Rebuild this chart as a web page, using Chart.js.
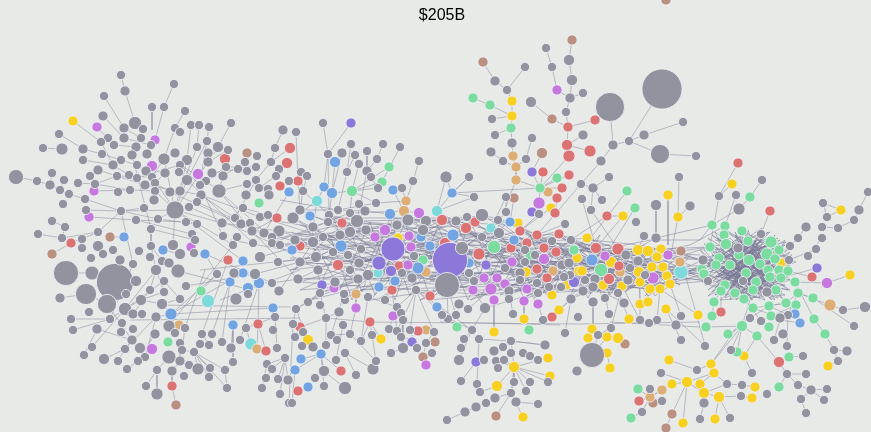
<!DOCTYPE html>
<html><head><meta charset="utf-8">
<script src="https://cdn.jsdelivr.net/npm/chart.js@4"></script>
<style>html,body{margin:0;padding:0;background:#e8eae8}canvas{display:block}</style>
</head><body><canvas id="c" width="871" height="432"></canvas>
<script>
const titleText = "$205B";
// node triples: x, y, radius
const grayNodes = [
121,75,4,125,91,4.5,174,84,4,104,96,4,152,107,4,164,107,4,185,111,4,103,116,4.5,231,123,4,135,123,6,124,128,4.5,143,129,4,59,134,4,191,125,4,199,125,4,209,127,4,175,128,4,180,132,4,283,130,4.5,124,138,4.5,141,138,4,108,138,4,101,142,4,43,148,4,62,149,5.5,83,149,4.5,114,145,4,136,147,4.5,151,145,4,207,141,4,197,147,4,218,147,5,228,150,4,275,148,4,175,153,4.5,208,153,4.5,102,154,4,132,155,4.5,147,154,4.5,257,156,4,83,160,4,121,160,4,164,159,5.5,187,160,5,208,162,4.5,245,162,4,271,162,4,113,165,4.5,137,165,4,180,165,4,226,167,4,256,167,4,238,169,4,279,169,4,98,170,4.5,146,171,4.5,179,172,4,165,173,4.5,212,173,4.5,247,171,4,90,176,4,52,173,4,117,176,4,129,175,4,137,178,4,152,177,4,223,176,4.5,276,176,4,289,181,4,16,177,7,37,181,4,64,180,4,50,185,4.5,78,183,4,95,184,4,187,180,5,206,181,4,256,180,4,247,184,4,145,185,4.5,155,183,4,200,185,4,60,190,4,219,191,6.5,259,188,4,268,189,4,130,190,4,118,192,4,155,191,4,170,192,4.5,180,191,4.5,69,194,4,201,195,4.5,246,195,4.5,269,195,4.5,85,199,4,154,200,4.5,63,204,4,197,202,4,175,210,8.5,144,208,4,189,207,4,243,208,4,86,210,4,121,211,4,158,219,4,235,218,4,260,217,4,268,215,4,136,220,4,52,221,4,186,222,4,197,224,4,222,223,4.5,241,224,4.5,250,223,4,65,227,4,151,229,4,98,232,4,252,231,4.5,264,233,4.5,279,231,5.5,38,234,4,192,234,4,223,236,4,237,237,4,62,238,4,82,239,4,195,240,4,272,237,4,98,246,5,151,246,4,173,245,5,233,245,4,253,243,4,272,243,4,280,245,4,82,248,4,113,250,4,
66,273,12,92,273,6.5,115,282,18,86,294,10,107,304,9,136,281,5,126,294,4,60,298,4.5,91,258,4,103,254,4,120,260,4.5,133,264,4,139,251,4,150,257,4,156,270,5,162,261,4,169,263,4.5,178,271,6.5,180,254,5,194,253,4,234,273,4.5,255,274,5,260,257,5,217,274,4,164,281,4,186,286,4,150,290,4,164,292,4,248,294,4,272,283,4,279,291,4.5,278,262,4,180,299,4,141,300,5,162,304,5,236,299,5.5,125,309,6,89,312,4,133,314,4.5,142,314,4,71,319,4,110,319,4,156,317,4.5,275,317,4,122,323,4,169,326,5.5,185,328,4,246,328,4,73,330,4,97,329,4.5,133,329,4,121,332,4,175,333,4,155,334,4.5,202,334,4,212,334,4,273,330,4,132,340,4.5,180,343,4,200,344,4,209,345,4,222,342,4,240,340,4,277,348,4,92,347,4,125,349,4,140,348,5,182,350,4,231,348,4.5,194,352,4,84,355,4,104,359,5,145,357,4,169,357,6.5,118,361,4,138,361,4,180,361,4.5,189,365,4,285,358,4,233,362,4,267,364,4,127,369,4,157,370,4,172,371,4.5,198,369,5.5,210,368,4,225,370,4,272,369,4,184,376,4,209,377,4,266,378,4,278,379,4,288,380,4.5,146,386,4,227,388,4,262,388,4,157,394,5.5,280,394,4,289,403,4,
323,123,4,296,132,4,351,144,4,383,144,4,400,147,4,328,154,4,342,153,4.5,355,155,4,367,151,4,377,159,4,419,161,4,359,164,4,301,172,4,307,176,4,347,172,4,367,171,4.5,371,177,4,413,181,4,446,177,5.5,469,177,4,378,188,4,402,188,4,303,191,4,474,197,4,359,204,4,376,203,4,300,210,4.5,338,210,4,350,213,4,365,211,4.5,293,218,5.5,329,215,4,482,215,6,467,217,4,357,221,6,408,220,5.5,426,221,5,456,221,4.5,328,222,4,313,227,4.5,397,225,4.5,350,232,5,366,230,4.5,423,230,5,498,220,4,506,212,4,506,197,4,295,240,4.5,323,237,4,340,235,4.5,313,242,5,482,237,4,499,233,5,462,248,6,361,249,4,348,255,4,316,257,5,414,256,4,300,262,4.5,359,263,4.5,402,273,4,368,275,5,469,273,4,358,279,4.5,298,279,4.5,412,278,4.5,447,285,12,474,281,4,318,270,4.5,333,252,4,335,282,4.5,385,300,4,350,270,4,320,305,4,345,300,4,525,250,4,535,255,4,570,275,4,605,298,4,630,268,4,645,275,4,
539,214,4,505,268,4,525,262,4,520,273,4.5,562,265,4.5,569,263,4.5,564,277,4,571,240,4,552,241,4,565,224,4,509,291,4.5,520,280,4,537,283,4,538,293,4,549,287,4,561,287,4,571,299,4.5,509,299,4,485,308,5,459,304,4.5,468,309,4,543,320,4,513,314,4,578,317,4,456,315,4,448,319,4,442,315,4,416,290,4,368,297,4,344,294,4,308,302,4,320,293,4,296,309,4,339,312,4.5,397,307,4,401,313,4,403,320,4,326,318,4,343,325,4,293,324,4,389,329,4,397,331,4,410,330,4,434,332,4,472,330,4,565,333,4,303,332,4,295,337,4,350,334,4,331,335,4,337,340,4,372,335,4,361,341,4,401,337,4,426,343,4,417,348,4,403,348,5,391,353,4,302,346,4,313,347,4.5,326,345,4,345,353,4,432,353,4,464,339,4,479,339,4,461,348,4,459,360,5,511,341,4,545,345,4.5,503,347,4,494,351,4.5,523,353,4,511,353,4,530,356,4,538,360,4,484,360,4,496,361,4,504,360,4,498,368,4,548,382,4,530,382,4,514,382,4,461,381,4,477,384,4,480,392,4,526,391,4,511,393,4,495,398,4.5,516,402,4.5,538,404,4,486,403,4,476,407,4.5,465,412,4.5,447,420,4,577,371,4.5,315,378,4,324,371,5,336,360,4,373,369,5.5,376,361,4,356,375,4,324,386,4,345,388,6,292,403,4,
546,48,4,569,60,5,552,67,4,525,67,4,662,89,19.5,572,80,5,495,81,4.5,507,90,4,583,93,4,570,98,4.5,531,102,5,610,107,14,566,112,4,492,119,4,683,122,4,495,135,4,644,135,4.5,583,135,4.5,532,138,4,629,141,4,512,143,4.5,613,145,4.5,491,152,4.5,660,154,9,696,156,4,503,161,4,526,159,4,601,161,4.5,609,177,4,679,177,4,581,184,4,593,188,4.5,
582,199,4,602,200,4,591,210,4,762,180,4,719,196,4,736,195,4,868,192,4,823,203,4,859,210,4.5,656,205,5,690,206,4.5,739,209,5.5,827,217,4,854,220,4,636,222,4,838,228,4,822,227,4,806,227,4.5,761,234,4,644,236,4,656,238,4.5,798,238,4,822,238,4,738,248,4.5,790,246,4,816,249,4,626,255,4.5,808,256,4,638,261,4.5,703,260,4.5,789,260,4,595,279,4.5,585,280,4,628,280,4.5,708,281,4,743,281,4,593,287,4.5,583,291,4.5,767,292,4.5,618,293,4,843,310,4,865,307,5,624,303,4.5,593,302,4.5,681,316,4,657,320,4,640,320,4,609,314,4,788,315,4,780,318,4.5,750,318,4,
611,328,4,598,335,4,592,355,12,649,323,4,676,325,4.5,681,340,4,705,346,4,761,321,4,783,334,4.5,774,340,4,787,346,4,854,326,4,834,350,4,847,351,4.5,838,361,4,731,350,4,803,356,4,752,373,4,787,374,4,806,374,4,798,385,4,811,390,4.5,827,389,4,801,399,4,824,400,4,806,413,4,697,370,4,661,373,4,727,384,4,742,385,4,741,396,4,767,394,4,650,389,4,662,401,4,704,403,4.5,642,412,4,700,419,4,730,418,4
];
const purpleNodes = [351,123,4.5,322,285,4.5,393,249,11.5,450,260,17,379,263,6.5,391,271,5,486,265,4.5,532,172,4.5,532,212,4.5,574,282,5,412,342,4.5,476,362,4.5,817,268,4.5];
const pinkNodes = [97,127,4.5,155,140,4.5,152,166,5,198,174,5,94,191,4.5,89,217,4.5,191,247,4.5,152,349,5,375,237,4.5,385,230,5,419,213,5,409,236,4.5,411,247,4.5,408,265,4.5,334,288,4.5,356,308,4.5,393,316,4.5,426,365,4.5,539,203,5.5,512,262,4.5,544,259,5,484,278,4.5,497,278,4.5,505,284,4.5,491,289,5.5,473,290,4.5,527,289,4.5,494,300,4.5,524,301,4.5,538,304,4.5,557,90,4.5,605,256,4.5,668,255,4.5,653,278,5.5,827,283,5];
const blueNodes = [289,192,4.5,124,237,4.5,163,250,4.5,205,254,4.5,243,261,4.5,243,273,4.5,230,282,4.5,259,283,5,248,288,5,171,314,5.5,273,308,4.5,233,325,4.5,335,162,5,324,187,4.5,393,190,4.5,332,193,5,452,193,4.5,390,214,5,310,216,4.5,341,246,5.5,421,237,4.5,453,235,5.5,430,246,4.5,292,250,4.5,469,263,4.5,418,268,5.5,442,275,4.5,395,281,4.5,379,287,4.5,437,307,4.5,510,222,4.5,514,240,4.5,321,354,4.5,301,359,4.5,295,370,4.5,308,387,4.5,592,260,5.5,795,314,4.5,800,323,4.5];
const redNodes = [225,159,5,290,148,5,287,163,5,280,186,4.5,277,218,4.5,71,243,4.5,228,260,4.5,258,324,4.5,266,351,4.5,172,386,4.5,298,181,4.5,442,220,5,475,222,4.5,466,228,5,342,223,4.5,445,243,5,300,246,4.5,479,254,5.5,338,265,5,399,266,4.5,557,198,4.5,562,188,4.5,569,175,4.5,543,172,4.5,568,127,4.5,567,145,5,569,156,5.5,595,120,4.5,590,151,5.5,555,213,4.5,520,231,4.5,537,235,4.5,559,234,4.5,527,243,4.5,511,248,4.5,544,248,4.5,556,252,4.5,537,269,4.5,547,278,4.5,552,317,4.5,430,296,4.5,392,290,4.5,370,322,4.5,300,327,4.5,418,331,4.5,341,371,4.5,298,391,4.5,738,163,4.5,770,211,4.5,607,216,4.5,596,248,5,618,249,5.5,619,266,4.5,609,279,5,812,277,4.5,721,312,4.5,779,362,5,639,401,4.5];
const greenNodes = [259,203,4.5,201,291,4.5,168,342,4.5,389,167,4.5,382,182,4.5,352,191,5,423,260,4.5,494,247,6,473,98,4.5,490,105,4.5,511,128,4.5,557,178,4.5,540,188,4.5,574,250,4.5,530,255,4.5,457,327,4.5,529,330,4.5,627,191,4.5,750,197,4.5,635,208,4.5,712,225,4.5,725,226,4.5,742,231,4.5,724,235,4.5,748,241,4.5,771,242,5.5,726,244,5,710,247,4.5,779,250,4.5,767,254,5.5,739,255,4.5,719,258,4.5,775,259,4.5,749,260,5,716,265,4.5,730,265,4.5,760,264,4.5,601,270,6,702,269,4.5,768,270,4.5,779,270,4.5,788,271,4.5,704,274,4.5,746,273,4.5,770,277,4.5,781,278,4.5,795,282,4.5,756,282,4.5,725,285,4.5,753,290,4.5,721,291,4.5,735,293,4.5,776,290,4.5,798,293,4.5,744,299,4.5,813,298,4.5,786,303,4.5,796,305,4.5,769,306,4.5,753,308,4.5,714,302,4.5,712,316,4.5,771,316,4.5,814,319,4.5,706,327,4.5,728,334,4.5,742,326,5,757,336,4.5,769,327,4.5,825,334,4.5,737,352,4.5,789,357,4.5,779,387,4.5,638,389,4.5,631,418,4.5];
const yellowNodes = [73,121,4.5,398,238,4.5,512,101,4.5,512,116,4.5,551,208,4.5,518,223,4.5,577,258,4.5,526,272,4.5,579,271,4.5,566,285,4.5,552,295,4.5,559,310,4.5,524,319,4.5,494,332,4.5,308,340,5,381,339,4.5,548,358,4.5,514,367,5,550,376,4.5,497,386,5,523,417,4.5,732,184,4.5,668,195,4.5,841,210,4.5,678,217,4.5,623,216,4.5,587,238,4.5,638,250,5,648,251,5,661,249,4.5,657,257,4.5,611,262,5,781,263,4.5,652,267,4.5,663,267,4.5,582,271,4.5,639,272,5,850,275,4.5,667,276,4.5,640,282,4.5,670,284,4.5,603,285,4.5,622,286,4.5,650,289,4.5,660,289,4.5,640,304,4.5,648,302,4.5,666,309,4.5,698,315,4.5,629,319,4.5,592,329,4.5,588,338,4.5,607,337,4.5,618,338,5,607,353,4.5,610,368,4.5,828,366,4.5,744,356,4.5,669,360,4.5,711,364,4.5,714,373,4.5,672,384,4.5,687,382,5,700,384,4.5,755,387,4.5,704,393,5,719,397,5,752,398,4.5,683,423,4.5,715,419,4.5];
const tanNodes = [179,325,4.5,257,349,4.5,406,201,4.5,404,211,5,426,272,4.5,356,294,4.5,426,330,4.5,513,156,4.5,516,167,4.5,516,180,4.5,548,192,4.5,553,271,4.5,680,262,4.5,620,272,4.5,830,305,5.5,662,390,4.5,650,397,4.5];
const brownNodes = [247,153,4.5,110,237,4.5,52,254,4.5,176,405,4.5,514,198,4.5,542,153,5,666,0,4.5,572,40,4.5,483,62,4.5,552,119,4.5,435,342,4.5,423,357,4.5,496,416,4.5,681,251,4.5,625,344,4.5,653,403,4.5,672,414,4.5,666,428,4.5];
const cyanNodes = [208,301,6,251,344,5.5,317,201,5,437,211,5,491,228,4.5,378,273,4.5,681,272,6.5];
// edge polylines: data coordinates x,y,x,y,...
const links = [
[121,75,125,91,135,123,143,129],[174,84,164,107,155,140],[152,107,152,130],[185,111,175,128,164,159],[104,96,124,128,141,138],[103,116,124,138,151,145],[73,121,101,142,113,165],[97,127,114,145,136,147],[59,134,83,149,102,154,121,160,137,165],[43,148,62,149],[83,160,113,165,129,175],[231,123,218,147,208,162],[16,177,37,181,50,185,60,190],[52,173,50,185],[64,180,60,190],[78,183,95,184,117,176,152,177],[95,184,130,190],[69,194,85,199,121,211,158,219,197,224],[94,191,130,190,155,191],[86,210,121,211],[89,217,136,220,186,222],[52,221,65,227,62,238],[38,234,62,238],[110,237,124,237],[71,243,52,254],[71,243,82,239,98,232,121,211,144,208],[121,211,133,264],[151,229,151,246,156,270],[98,170,117,176,145,185],[191,125,187,160,175,210],[199,125,197,147,180,191],[209,127,197,202],[207,141,187,180,175,210],[228,150,208,162,175,210],[175,153,164,159,152,177,175,210],[275,148,271,162,256,180,235,218],[283,130,275,148],[290,148,271,162],[287,163,276,176,259,188],[247,153,245,162,223,176,219,191],
[219,191,252,231,264,233,300,262],[219,191,280,245,320,250],[175,210,222,223,279,231,313,242],[197,202,264,233],[189,207,272,243],[201,195,260,217,323,237],[187,180,253,243],[170,192,241,224],[155,191,175,210,233,245],[164,159,175,210,243,261],[136,178,180,165,200,185,223,236],[145,185,180,191,201,195,235,218],[165,173,155,183,170,192],[180,165,206,181,219,191],[247,184,219,191],[226,167,200,185],[238,169,212,173],[256,167,226,167],[289,192,264,233],[277,218,252,231],[268,215,243,208,222,223],
[121,211,175,210],[158,219,175,210],[136,220,192,234],[151,229,195,240],[173,245,175,210],[163,250,180,254],[98,232,62,238],[92,273,66,273],[92,273,115,282],[86,294,60,298],[86,294,107,304],[92,273,136,281],[125,309,156,270],[125,309,141,300],[125,309,164,281],[107,304,132,340,97,329],[71,319,110,319,125,309],[73,330,110,319,133,264],[92,347,125,309],[84,355,97,329],[104,359,125,349,132,340],[118,361,125,349],[127,369,138,361],[145,357,156,317],[138,361,155,334],[125,349,156,317,171,314],[156,270,164,292,141,300],[156,270,150,290,133,314],[141,300,162,304,171,314],[171,314,217,274,205,254],[171,314,243,273],[171,314,273,308],[169,326,233,245],[185,328,205,270],[201,291,217,274],[178,271,243,288],[151,246,162,261],[132,155,151,229],[205,254,272,283],[228,260,202,334],[230,282,212,334],[230,282,222,342],[259,283,240,340],[258,324,259,283],[258,324,257,349],[266,351,258,324],[251,344,246,328,275,317],[273,308,275,317,277,348],[233,325,233,362],[231,348,233,325],[194,352,225,370],[194,352,210,368],[194,352,209,377],[194,352,198,369],[194,352,227,388,225,370],[194,352,182,350,185,328],[169,357,180,361,172,371,172,386,176,405],[157,370,146,386],[157,370,157,394],[169,357,157,370],[180,343,180,361],[209,345,202,334],[180,299,162,304],[164,281,180,299],[186,286,255,274],
[285,358,267,364,262,388],[285,358,272,369,266,378],[285,358,278,379],[288,380,285,358],[280,394,285,358],[293,324,289,403],[300,327,295,337],[303,332,308,340,302,346],[308,340,296,309,320,293],[321,354,301,359],[321,354,295,370,292,403],[321,354,324,371,345,388],[321,354,341,371],[321,354,324,386],[326,345,326,318],[336,360,343,325],[345,353,373,369],[376,361,350,334],[356,375,345,353],[373,369,376,361,372,335,370,322],[370,322,381,339],[370,322,361,341],[370,322,326,318,300,327],[403,320,403,348,391,353],[417,348,410,330,416,290],[423,357,426,343,434,332,416,290],[426,365,423,357],[412,342,397,331,416,290],[397,307,416,290],[397,331,392,290],[401,337,403,320],[389,329,397,307,368,297],[368,297,361,341],[356,294,356,308,350,334,331,335],[331,335,344,294],[339,312,326,318,320,293],[296,309,308,302,320,293],[293,324,296,309],[416,290,457,327],[416,290,472,330,459,360],[430,296,416,290],[437,307,442,315,472,330],
[472,330,485,308,574,282],[472,330,464,339,461,348],[479,339,511,341,545,345],[511,341,503,347,494,351],[545,345,511,341],[494,351,498,368],[511,341,514,367],[484,360,476,362,461,381],[504,360,514,367],[496,361,514,367],[523,353,530,356,538,360],[514,367,548,358],[514,367,548,382],[514,367,550,376],[514,367,530,382],[514,367,514,382],[514,367,497,386],[514,367,526,391],[514,367,511,393],[497,386,480,392,477,384],[511,393,495,398,486,403,476,407,465,412,447,420],[511,393,516,402,538,404],[511,393,496,416],[511,393,523,417],[514,382,511,393],[479,339,477,384],
[538,304,543,320],[524,301,524,319],[494,300,494,332],[513,314,509,291],[459,304,468,309,491,289],[485,308,473,290],[571,299,565,333],[571,299,552,317],[571,299,559,310],[538,304,527,289],[448,319,447,285],[456,315,447,285],
[483,62,495,81,507,90,525,67],[473,98,490,105,512,116,512,101,507,90],[492,119,512,116,511,128,512,143,513,156,516,167,516,180,474,290],[495,135,511,128],[491,152,503,161,516,167],[532,138,526,159,516,167],[531,102,552,119,568,127,566,112,570,98,583,93],[546,48,552,67,557,90,570,98,572,80,569,60,572,40],[595,120,568,127,567,145,583,135],[567,145,590,151],[567,145,569,156,540,188],[542,153,532,172,540,188],[543,172,540,188],[516,180,540,188,548,192],[540,188,557,178],[540,188,569,175],[540,188,562,188],[540,188,452,193,437,211],[540,188,539,203,532,212],[557,198,555,213],[551,208,520,231],[539,214,520,231],[565,224,537,235],[446,177,452,193,469,177],[452,193,474,197,437,211],
[662,89,629,141,613,145,610,107],[629,141,644,135,683,122],[629,141,660,154,696,156],[613,145,601,161,581,184,537,235],[609,177,593,188,581,184],[593,188,591,210],[627,191,593,235],[635,208,596,270],[607,216,623,216,596,248],[607,216,540,260],[591,210,618,249],[602,200,593,188],[582,199,596,248],
[656,205,656,238],[668,195,668,245],[690,206,678,217,670,260],[644,236,638,250],[679,177,678,217],[738,163,719,196,710,247],[732,184,719,196],[762,180,750,197,739,209,712,225],[736,195,725,226],[770,211,761,234],[823,203,841,210,827,217,823,203],[859,210,854,220,838,228,822,227],[868,192,859,210],[806,227,798,238,790,246],[822,238,808,256],[816,249,789,260],[817,268,781,278],[812,277,788,271],[850,275,827,283,795,282],[813,298,798,293],[830,305,843,310,865,307],[830,305,798,293],[814,319,825,334,834,350,847,351],[834,350,838,361,828,366],[854,326,813,298],[795,282,814,319],[798,293,788,315,787,346],[774,340,780,320],[800,323,780,320],[779,362,789,357,803,356],[779,362,757,336],[779,362,787,374,806,374],[787,374,779,387],[787,374,798,385,811,390,827,389],[811,390,824,400],[811,390,801,399,806,413],[757,336,742,326,728,334],[742,326,731,350],[742,326,737,352],[744,356,757,336],[752,373,744,356],[706,327,742,326,753,308],[711,364,742,326,750,300],[721,312,721,291],[712,316,714,302,721,291],[750,318,769,306,786,303,798,293],[753,308,780,318],[744,299,761,321,769,327],[769,306,788,315],[753,308,786,303],[761,321,796,305],[786,303,776,290],[705,346,666,309],[681,340,666,309],[697,370,711,364,714,373],[669,360,697,370],[661,373,687,382,672,384],[687,382,714,373],[700,384,714,373],[687,382,704,393,727,384,714,373],[727,384,742,385,755,387],[704,393,719,397,741,396,752,398],[719,397,715,419],[719,397,730,418],[704,393,704,403,700,419],[687,382,683,423],[687,382,672,414,666,428],[672,384,650,397,642,412,631,418],[638,389,650,397,662,390],[639,401,650,397,653,403],[662,401,650,397],
[639,272,640,304],[648,302,648,289],[660,289,698,315],[670,284,681,316],[657,320,660,289],[640,320,640,282],[624,303,618,293],[593,302,593,329],[609,314,603,285],[629,319,618,293],[611,328,622,286,640,320],[611,328,598,335,592,355,607,337],[607,353,610,368],[618,338,625,344],[592,329,588,338],[681,260,705,345],[711,364,742,320],
[130,320,300,318],[160,305,290,307],[370,322,578,324],[578,324,700,322],[440,322,560,325],[610,322,700,327],[355,262,230,240],[200,270,340,255],[220,300,300,270],[377,159,367,171,357,221],[389,167,352,191,332,193],[382,182,352,191],[328,154,324,187],[323,123,328,154,329,215],[351,123,328,154],[342,153,332,193],[335,162,332,193],[355,155,347,172,338,210],[351,144,347,172],[367,151,367,171],[383,144,377,159],[400,147,382,182],[296,132,298,181,300,210],[301,172,303,191,307,176],[359,164,352,191],[378,188,352,191,376,203],[371,177,378,188],[402,188,406,201,404,211],[393,190,404,211,419,213],[413,181,406,201],[419,161,413,181],[446,177,437,211],[469,177,452,193],[506,212,506,197,491,228],[514,198,510,222]
];
// dense web through the central band and the right-hand ball
const coreLinks = [
[293,218,338,240,366,230,397,225,426,221,456,221,482,215,510,222,537,235,559,234,571,240,596,248,618,249,638,250,661,249,681,251,710,247],[300,210,350,232,408,220,442,220,467,217,498,220,527,243,556,252,596,248,638,261,668,255,703,260],[303,191,329,215,357,221,397,225,445,243,479,254,511,248,544,248,574,250,626,255,657,257,708,281],[295,240,340,235,393,249,450,260,494,247,527,243,559,234,592,260,639,272,681,272,716,265],[313,242,366,230,414,256,462,248,482,237,514,240,544,259,582,271,618,293,653,278,702,269],[300,262,348,255,379,263,418,268,469,263,512,262,553,271,595,279,640,282,670,284,708,281],[298,279,358,279,395,281,447,285,474,281,525,262,549,287,585,280,628,280,667,276,703,260],[316,257,341,246,392,249,423,230,456,221,480,240,520,231,556,252,593,287,624,303],[328,222,361,249,402,273,442,243,466,228,505,268,537,283,561,287,601,270,652,267,702,269],[323,237,368,275,411,247,453,235,499,233,526,272,564,277,611,262,663,267,708,281],[340,246,408,265,462,248,491,228,537,269,574,282,603,285,650,289,704,274],[350,232,412,278,469,273,509,291,549,287,583,291,622,286,670,284],[357,221,399,266,445,243,494,247,520,280,571,240,605,256,661,249,710,247],[313,227,359,263,402,273,474,281,527,289,566,285,593,287,640,282,681,262],[342,223,397,225,385,230,430,246,479,254,544,248,592,260,626,255,668,255],[310,216,366,230,409,236,442,220,482,237,505,268,538,293,583,291,618,293,652,267],[329,215,375,237,414,256,450,260,498,220,552,241,587,238,618,249,657,257,681,251],[365,211,350,232,313,242,300,262,338,265,378,273,418,268,442,275,505,284,561,287],[293,218,323,237,348,255,402,273,469,273,520,273,569,263,595,279,639,272,681,272],[404,211,423,230,462,248,525,262,562,265,611,262,648,251,690,265],[390,214,421,237,479,254,537,269,585,280,638,261,680,262],[419,213,453,235,514,240,544,259,593,287,628,280,667,276],[437,211,482,237,530,255,577,258,623,270,660,289],[467,217,511,248,553,271,609,279,657,257,703,260],[482,215,527,243,574,250,626,255,652,267,704,274],[510,222,556,252,601,270,639,272,708,281],[518,223,544,248,585,260,618,249,661,249],[559,234,596,248,622,286,650,289],[587,238,605,256,640,282,670,284],[571,240,611,262,653,278,702,269],[552,241,592,260,663,267,716,265],[300,246,361,249,421,237,467,217],[316,257,359,263,416,250,445,243],[320,250,395,240,426,221],[270,240,340,225,376,250,430,246,470,225],[272,243,328,222,397,225,453,235],[264,233,348,255,392,249,469,263,505,268],[260,257,313,242,379,263,447,285],[255,274,300,262,358,279,412,278,474,281],[252,231,298,279,368,275,442,275],[279,231,323,237,357,221,408,220,456,221,499,233],[280,245,350,232,397,225],[279,262,316,257,341,246,366,230],[272,283,298,279,348,255],[279,291,300,262,338,265],[270,220,313,227,350,213,404,211],[280,200,338,210,376,203,406,201],[303,191,300,210,338,210,365,211,390,214],[332,193,329,215,350,232],[317,201,313,227],[352,191,350,213],[324,187,317,201,293,218],[482,215,438,225,405,245],
[305,225,340,290,370,222,395,300,420,225,445,295,470,220,500,290,530,235,555,295,585,245,610,295,640,250,665,290,690,255],[300,250,335,222,362,292,390,218,415,288,452,230,480,298,512,236,535,298,570,248,598,292,628,252,655,296,690,270],[295,270,330,235,352,300,385,226,410,296,438,226,468,300,495,240,525,300,560,245,588,298,615,246,648,296,700,265],[310,215,320,285,348,225,375,295,405,222,430,298,460,232,490,295,520,238,548,298,575,250,605,300,635,248,672,290],[292,232,360,285,300,290,425,235,340,300,470,240,380,298,515,245,420,300,560,250,470,300,600,255,520,300,640,262,570,298,680,268],[300,225,400,262,315,295,445,250,350,225,490,270,400,215,535,262,450,225,575,280,500,240,615,275,550,245,655,280,600,250,700,255],[330,240,500,232,340,262,520,250,345,280,530,270,360,290,540,285,380,230,555,240,410,262,570,262,430,280,590,280,450,240,610,245,480,265,625,270,510,285,650,285],[290,258,470,258,295,235,480,225,300,282,490,295,320,245,500,245,350,270,540,275,370,240,560,262,420,250,600,268,440,290,620,290,500,262,660,262,560,275,690,280],[285,245,395,232,290,270,420,255,310,300,430,270,330,218,450,218,370,300,475,285,392,218,505,225,430,300,530,290,462,222,580,255,505,296,620,255,540,240,665,270],[500,250,560,230,520,290,585,240,540,296,600,235,570,296,625,250,590,294,640,255,610,290,655,262,625,292,672,262,645,296,688,255],[510,240,590,285,525,232,610,278,545,240,628,284,562,238,640,270,578,245,660,290,600,248,680,285,620,250,695,275],[495,275,545,260,500,295,565,275,515,265,590,270,530,250,610,262,555,280,635,270,570,262,655,268,600,290,668,282],
[715,240,778,255,712,270,785,285,725,295,770,240,705,258,775,300,735,232,760,298,716,282,790,265,725,232,745,298,708,248,778,282,700,275,770,252,740,236,752,292,716,252,786,272,730,290,762,238,708,265,768,292,748,230,736,300,790,252,712,292,780,240,725,262,760,282,718,238,775,268,742,248,750,290,705,285,785,258,722,272,765,232,735,282,772,278,712,245,752,300,728,240,768,262,720,300,785,295,710,260,745,270,775,235,733,298,790,280,700,262,760,250,725,282,778,298,740,262,712,282,755,240,770,292,718,265,785,245,745,285,708,238,762,272,732,252,778,262,715,295,752,235,738,275,768,245,722,285,780,272,745,242,730,300,760,265,712,255,772,288,750,250,718,292,788,258,735,240,755,280,726,254,765,300,740,292,704,250,776,246],
[702,265,745,233,790,275,740,300,700,250,755,298,785,240,715,288,770,232,720,248,782,292,730,238,708,278,758,240,792,268,725,298,762,228,712,262,775,295,738,245,700,270,768,282,722,236,752,268,790,248,732,292,760,258,708,290,745,258,778,238,718,275,785,280,728,262,770,298,738,228,796,262,748,278,710,242,765,290,735,268,782,252,702,282,758,262,724,246,775,275,742,295,715,232,788,290,730,275,768,238,705,268,752,252,780,265,720,292,746,238,792,282],
[710,250,780,290,720,240,790,270,730,296,760,232,705,272,752,300,775,248,715,295,770,262,725,230,785,262,740,282,700,258,762,296,735,235,778,280,712,235,748,262,790,290,726,280,768,232,708,296,755,272,786,242,718,258,772,300,732,246,764,276,744,232,782,298,722,268,758,250,704,244,750,285,792,255,734,260,776,292,716,276,762,244,740,300,788,272,728,250,754,294,710,268,770,268],
[704,274,640,272,610,260],[702,269,660,285,610,290],[703,260,640,245,590,240],[712,225,700,240,650,240,600,250],[725,226,690,245,640,255],[710,247,660,262,600,275],[719,258,680,275,630,262],[716,265,670,250,620,270],[712,225,656,238,597,270],[708,281,660,275,610,270]
];
const COL = {gray:"#9393a0",purple:"#8c78d8",pink:"#c678de",blue:"#73a4e2",red:"#dd7272",green:"#7bdca0",yellow:"#f8d020",tan:"#dcae74",brown:"#ba9080",cyan:"#7cdada"};
const ringWidth = 0.6;

const bubbles = t => { const o=[]; for(let i=0;i<t.length;i+=3) o.push({x:t[i],y:t[i+1],r:t[i+2]+ringWidth}); return o; };
const polyPts = ls => { const p=[]; ls.forEach(l => { for(let i=0;i<l.length;i+=2) p.push({x:l[i],y:l[i+1]}); p.push({x:l[0],y:null}); }); return p; };
const bubbleSet = (t,c) => ({type:"bubble",data:bubbles(t),backgroundColor:c,borderColor:"rgba(236,238,246,0.85)",borderWidth:1,order:1,clip:false});
const lineSet = (ls,c,w) => ({type:"line",data:polyPts(ls),borderColor:c,borderWidth:w,pointRadius:0,spanGaps:false,tension:0,fill:false,order:5,clip:false});
const titleDraw = {id:"titleDraw",afterDraw(ch){const x=ch.ctx;x.save();x.fillStyle="#000";x.font='16px "Liberation Sans",Arial,sans-serif';x.textAlign="center";x.textBaseline="alphabetic";x.fillText(titleText,442,20);x.restore();}};
new Chart(document.getElementById("c"),{
  type:"bubble",
  data:{datasets:[
    lineSet(links,"rgba(130,130,150,0.55)",0.9),
    lineSet(coreLinks,"rgba(118,118,146,0.62)",0.8),
    bubbleSet(grayNodes,COL.gray),bubbleSet(purpleNodes,COL.purple),bubbleSet(pinkNodes,COL.pink),bubbleSet(blueNodes,COL.blue),bubbleSet(redNodes,COL.red),bubbleSet(greenNodes,COL.green),bubbleSet(yellowNodes,COL.yellow),bubbleSet(tanNodes,COL.tan),bubbleSet(brownNodes,COL.brown),bubbleSet(cyanNodes,COL.cyan)
  ]},
  options:{responsive:false,animation:false,layout:{padding:0,autoPadding:false},
    plugins:{legend:{display:false},tooltip:{enabled:false},title:{display:false}},
    scales:{x:{type:"linear",display:false,min:0,max:871},y:{type:"linear",display:false,min:0,max:432,reverse:true}}
  },
  plugins:[titleDraw]
});
</script></body></html>
